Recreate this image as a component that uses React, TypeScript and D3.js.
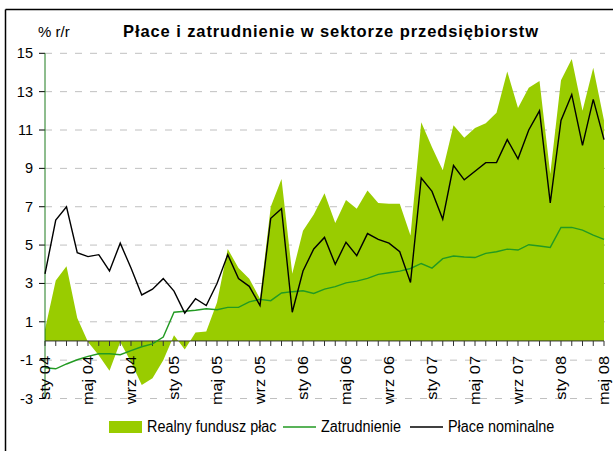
import React from "react";
import * as d3 from "d3";

// dane miesięczne sty 04 – maj 08, % r/r
const realFund = [
  0.6, 3.15, 3.9, 1.2, -0.05, -0.75, -1.55, -0.05, -1.1, -2.3, -1.95, -1.0, 0.3,
  -0.45, 0.44, 0.5, 2.0, 4.8, 3.8, 3.25, 2.2, 7.0, 8.45, 3.5, 5.75, 6.6, 7.7,
  6.15, 7.35, 6.9, 7.85, 7.2, 7.15, 7.15, 5.5, 11.4, 10.1, 8.9, 11.25, 10.6,
  11.1, 11.35, 11.9, 14.05, 12.15, 13.2, 13.55, 8.7, 13.6, 14.7, 12.0, 14.25, 11.5,
];
const employment = [
  -1.4, -1.45, -1.2, -0.98, -0.8, -0.67, -0.67, -0.72, -0.5, -0.3, -0.15, 0.2,
  1.5, 1.55, 1.6, 1.68, 1.63, 1.75, 1.75, 2.04, 2.17, 2.1, 2.5, 2.57, 2.62, 2.48,
  2.7, 2.83, 3.03, 3.12, 3.26, 3.47, 3.56, 3.64, 3.78, 4.04, 3.8, 4.29, 4.43,
  4.38, 4.35, 4.57, 4.65, 4.79, 4.74, 5.02, 4.95, 4.88, 5.92, 5.92, 5.78, 5.52, 5.3,
];
const nominal = [
  3.5, 6.3, 7.0, 4.6, 4.4, 4.5, 3.65, 5.1, 3.8, 2.4, 2.7, 3.25, 2.6, 1.45, 2.2,
  1.85, 3.0, 4.5, 3.25, 2.85, 1.85, 6.4, 6.9, 1.5, 3.65, 4.8, 5.4, 4.0, 5.15,
  4.45, 5.6, 5.3, 5.1, 4.65, 3.05, 8.5, 7.8, 6.35, 9.15, 8.4, 8.85, 9.3, 9.3,
  10.5, 9.5, 11.0, 12.0, 7.2, 11.5, 12.85, 10.2, 12.6, 10.5,
];
const xLabels = [
  "sty 04", "maj 04", "wrz 04", "sty 05", "maj 05", "wrz 05", "sty 06",
  "maj 06", "wrz 06", "sty 07", "maj 07", "wrz 07", "sty 08", "maj 08",
];
const yTicks = [-3, -1, 1, 3, 5, 7, 9, 11, 13, 15];

const font = '"Liberation Sans", Arial, sans-serif';
const fillGreen = "#99CC00";
const lineGreen = "#229a22";
// obraz oryginału jest lekko rozciągnięty w pionie
const stretch = 1.17;

export default function App() {
  const W = 613, H = 451;
  const x = d3.scaleLinear().domain([0, realFund.length - 1]).range([45, 604]);
  const y = d3.scaleLinear().domain([-3, 15]).range([398.5, 53.3]);
  const idx = d3.range(realFund.length);

  const area = d3.area<number>()
    .x((i) => x(i))
    .y0(y(0))
    .y1((i) => y(realFund[i]));
  const line = (vals: number[]) =>
    d3.line<number>().x((i) => x(i)).y((i) => y(vals[i]))(idx) || "";

  const legendText = (tx: number, label: string) => (
    <g transform={`translate(${tx},432) scale(1,${stretch})`}>
      <text x={0} y={0}>{label}</text>
    </g>
  );

  return (
    <svg width={W} height={H} style={{ position: "absolute", left: 0, top: 0, background: "#fff" }}
      fontFamily={font}>
      {/* ramka */}
      <line x1={5.5} y1={9.5} x2={W} y2={9.5} stroke="#000" strokeWidth={1.5} />
      <line x1={5.5} y1={9.5} x2={5.5} y2={H} stroke="#000" strokeWidth={1.5} />

      <text x={123} y={36.5} fontWeight="bold" fontSize={16.5} textLength={415}
        lengthAdjust="spacing">Płace i zatrudnienie w sektorze przedsiębiorstw</text>
      <text x={38} y={36.5} fontSize={15}>% r/r</text>

      {/* siatka */}
      {yTicks.map((t) => (
        <g key={t}>
          <line x1={45} x2={605} y1={y(t)} y2={y(t)} stroke="#c0c0c0" strokeDasharray="7,8" />
          <line x1={39} x2={45} y1={y(t)} y2={y(t)} stroke="#000" />
          <text x={33} y={y(t) + 5} textAnchor="end" fontSize={14.5}>{t}</text>
        </g>
      ))}

      <path d={area(idx) || ""} fill={fillGreen} />

      <line x1={45} x2={45} y1={y(15)} y2={y(-3)} stroke="#1d7a1d" />
      <line x1={45} x2={604} y1={y(0)} y2={y(0)} stroke="#333" />
      {idx.map((i) => (
        <line key={i} x1={x(i)} x2={x(i)} y1={y(0)} y2={y(0) + 5} stroke="#333" />
      ))}

      <path d={line(employment)} fill="none" stroke={lineGreen} strokeWidth={1.4} />
      <path d={line(nominal)} fill="none" stroke="#000" strokeWidth={1.4} />

      {xLabels.map((l, k) => (
        <text key={l} transform={`translate(${x(k * 4) + 4.5},356) rotate(-90) scale(${stretch},1)`}
          textAnchor="end" fontSize={14}>{l}</text>
      ))}

      {/* legenda */}
      <g fontSize={14.4}>
        <rect x={109} y={421} width={33} height={12} fill={fillGreen} />
        {legendText(147, "Realny fundusz płac")}
        <line x1={283} x2={316} y1={427} y2={427} stroke={lineGreen} strokeWidth={1.4} />
        {legendText(321, "Zatrudnienie")}
        <line x1={410} x2={443} y1={427} y2={427} stroke="#000" strokeWidth={1.4} />
        {legendText(448, "Płace nominalne")}
      </g>
    </svg>
  );
}
